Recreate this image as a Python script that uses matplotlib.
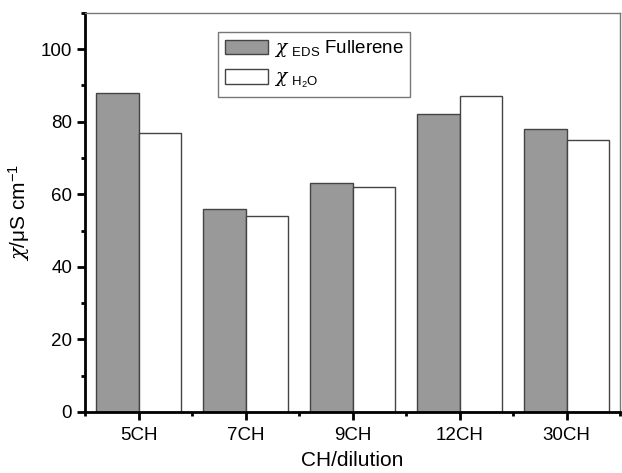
import matplotlib.pyplot as plt
import numpy as np
from matplotlib.ticker import MultipleLocator

plt.rcParams['font.family'] = ['Liberation Sans', 'DejaVu Sans']
plt.rcParams['mathtext.fontset'] = 'custom'
plt.rcParams['mathtext.rm'] = 'Liberation Sans'
plt.rcParams['mathtext.it'] = 'DejaVu Serif:italic'

dilutions = ['5CH', '7CH', '9CH', '12CH', '30CH']
chi_eds = [88, 56, 63, 82, 78]
chi_h2o = [77, 54, 62, 87, 75]

fig = plt.figure(figsize=(6.22, 4.73), dpi=100)
ax = fig.add_axes([0.137, 0.129, 0.860, 0.844])

x = np.arange(1, len(dilutions) + 1)
w = 0.4
ax.bar(x - w / 2, chi_eds, w, color='#999999', edgecolor='#444444', linewidth=1,
       label=r'$\chi$ $_{\mathrm{EDS}}$ Fullerene')
ax.bar(x + w / 2, chi_h2o, w, color='white', edgecolor='#444444', linewidth=1,
       label=r'$\chi$ $_{\mathrm{H_2O}}$')

ax.set_xlim(0.5, 5.5)
ax.set_ylim(0, 110)
ax.set_xticks(x)
ax.set_xticklabels(dilutions)
ax.xaxis.set_minor_locator(MultipleLocator(1, offset=0.5))
ax.yaxis.set_major_locator(MultipleLocator(20))
ax.yaxis.set_minor_locator(MultipleLocator(10))
ax.tick_params(which='major', direction='out', length=6, width=2, labelsize=13.5,
               top=False, right=False)
ax.tick_params(axis='x', which='major', pad=5)
ax.tick_params(which='minor', direction='out', length=3, width=2,
               top=False, right=False)

for s in ['left', 'bottom']:
    ax.spines[s].set_linewidth(2)
    ax.spines[s].set_color('black')
for s in ['top', 'right']:
    ax.spines[s].set_linewidth(1)
    ax.spines[s].set_color('#777777')

ax.set_xlabel('CH/dilution', fontsize=15, labelpad=5)
ax.set_ylabel(r'$\chi$/μS cm$^{-1}$', fontsize=15, labelpad=6)

leg = ax.legend(loc='upper left', bbox_to_anchor=(0.249, 0.952), borderaxespad=0,
                fontsize=13.5, frameon=True, fancybox=False, edgecolor='#555555',
                handlelength=2.3, handleheight=0.85, handletextpad=0.3,
                borderpad=0.35, labelspacing=0.5)
leg.get_frame().set_linewidth(1)

fig.savefig('out.png', dpi=100)
